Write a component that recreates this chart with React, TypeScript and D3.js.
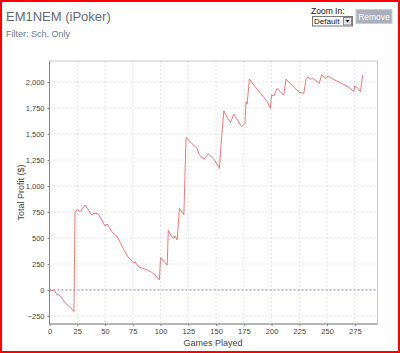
import { useEffect, useRef } from "react";
import * as d3 from "d3";

// games played / running profit
const games = [
  0, 2, 4, 7, 8, 10, 13, 16, 19, 22, 23, 25, 28, 29, 32, 34, 38, 40, 44, 47, 50, 52, 56, 61, 64, 67, 71, 76, 77, 80, 88,
  92, 95, 99, 100, 106, 107, 110, 112, 113, 115, 117, 121, 123, 128, 133, 135, 139, 143, 146, 149, 153, 155, 157, 160,
  163, 166, 169, 173, 176, 177, 178, 180, 184, 190, 196, 199, 200, 202, 205, 208, 209, 211, 213, 217, 221, 225, 229,
  231, 233, 235, 237, 240, 243, 245, 247, 249, 251, 254, 260, 266, 271, 274, 275, 278, 280, 282,
];
const profit = [
  0, -7, 0, -48, -38, -64, -106, -144, -170, -209, 753, 769, 753, 776, 817, 786, 721, 740, 731, 673, 615, 635, 561, 512,
  449, 385, 314, 257, 272, 224, 192, 170, 144, 96, 311, 240, 577, 512, 497, 519, 481, 786, 721, 1468, 1410, 1362, 1298,
  1257, 1308, 1282, 1243, 1170, 1468, 1724, 1660, 1609, 1692, 1641, 1570, 1603, 1811, 1788, 2029, 1971, 1891, 1811,
  1747, 1875, 1865, 1939, 1907, 1891, 1875, 2026, 1987, 1939, 1901, 1891, 2026, 2051, 2026, 2035, 2012, 1987, 2067,
  2051, 2035, 2058, 2035, 2003, 1971, 1939, 1907, 1961, 1939, 1907, 2067,
];
const xTicks = [0, 25, 50, 75, 100, 125, 150, 175, 200, 225, 250, 275];
const yTicks = [-250, 0, 250, 500, 750, 1000, 1250, 1500, 1750, 2000];

const W = 400;
const H = 353;
const plot = { left: 49.5, right: 377.5, top: 61, bottom: 324 };

export default function App() {
  const ref = useRef<SVGSVGElement>(null);

  useEffect(() => {
    const svg = d3.select(ref.current);
    svg.selectAll("*").remove();

    const x = d3.scaleLinear().domain([0, 295.4]).range([plot.left, plot.right]);
    const y = d3.scaleLinear().domain([-327, 2202]).range([plot.bottom, plot.top]);

    svg.append("rect").attr("width", W).attr("height", H).attr("fill", "#fff");

    // header
    svg.append("text").attr("x", 6).attr("y", 20.5)
      .attr("font-family", "Liberation Sans, Arial").attr("font-size", 13).attr("fill", "#5f6b78")
      .text("EM1NEM (iPoker)");
    svg.append("text").attr("x", 6).attr("y", 37)
      .attr("font-family", "Liberation Sans, Arial").attr("font-size", 9).attr("fill", "#6f7a86")
      .text("Filter: Sch. Only");

    // zoom controls
    svg.append("text").attr("x", 311).attr("y", 13.5)
      .attr("font-family", "Liberation Sans, Arial").attr("font-size", 8.5).attr("fill", "#111")
      .text("Zoom In:");
    svg.append("rect").attr("x", 312.5).attr("y", 16.5).attr("width", 40).attr("height", 9.5)
      .attr("fill", "#fff").attr("stroke", "#777");
    svg.append("text").attr("x", 314).attr("y", 24)
      .attr("font-family", "Liberation Sans, Arial").attr("font-size", 8).attr("fill", "#111")
      .text("Default");
    svg.append("rect").attr("x", 343.5).attr("y", 17.5).attr("width", 8).attr("height", 7.5)
      .attr("fill", "#e4e4e4").attr("stroke", "#888");
    svg.append("path").attr("d", "M345.5,20 L349.5,20 L347.5,22.5 Z").attr("fill", "#000");
    svg.append("rect").attr("x", 356).attr("y", 9.5).attr("width", 36).attr("height", 14)
      .attr("fill", "#aab0bc").attr("stroke", "#c8ccd4");
    svg.append("text").attr("x", 374).attr("y", 19.5).attr("text-anchor", "middle")
      .attr("font-family", "Liberation Sans, Arial").attr("font-size", 8.5).attr("fill", "#fff")
      .text("Remove");

    // grid
    const g = svg.append("g");
    g.selectAll("line.vx").data(xTicks).join("line")
      .attr("x1", d => x(d)).attr("x2", d => x(d)).attr("y1", plot.top).attr("y2", plot.bottom)
      .attr("stroke", "#dcdcdc").attr("stroke-dasharray", "2,2").attr("stroke-width", 0.8);
    g.selectAll("line.hy").data(yTicks).join("line")
      .attr("y1", d => y(d)).attr("y2", d => y(d)).attr("x1", plot.left).attr("x2", plot.right)
      .attr("stroke", "#dcdcdc").attr("stroke-dasharray", "2,2").attr("stroke-width", 0.8);

    // zero marker
    svg.append("line").attr("x1", plot.left).attr("x2", plot.right).attr("y1", y(0)).attr("y2", y(0))
      .attr("stroke", "#8c8cf0").attr("stroke-dasharray", "2,2").attr("stroke-width", 1);

    // plot outline
    svg.append("rect").attr("x", plot.left).attr("y", plot.top)
      .attr("width", plot.right - plot.left).attr("height", plot.bottom - plot.top)
      .attr("fill", "none").attr("stroke", "#c8c8c8");
    svg.append("line").attr("x1", plot.left).attr("x2", plot.left).attr("y1", plot.top).attr("y2", plot.bottom)
      .attr("stroke", "#888");
    svg.append("line").attr("x1", plot.left).attr("x2", plot.right).attr("y1", plot.bottom).attr("y2", plot.bottom)
      .attr("stroke", "#888");

    // series
    const line = d3.line<number>().x((_, i) => x(games[i])).y(d => y(d));
    svg.append("path").datum(profit).attr("d", line)
      .attr("fill", "none").attr("stroke", "#f07878").attr("stroke-width", 1);

    // axes
    const xAxis = svg.append("g").attr("transform", `translate(0,${plot.bottom})`)
      .call(d3.axisBottom(x).tickValues(xTicks).tickSize(2).tickPadding(3));
    const yAxis = svg.append("g").attr("transform", `translate(${plot.left},0)`)
      .call(d3.axisLeft(y).tickValues(yTicks).tickSize(2).tickPadding(3).tickFormat(d3.format(",")));
    [xAxis, yAxis].forEach(a => {
      a.select(".domain").remove();
      a.selectAll(".tick line").attr("stroke", "#888");
      a.selectAll(".tick text").attr("fill", "#444")
        .attr("font-family", "Liberation Sans, Arial").attr("font-size", 7.5);
    });

    svg.append("text").attr("x", 213).attr("y", 346)
      .attr("text-anchor", "middle").attr("font-family", "Liberation Sans, Arial").attr("font-size", 9)
      .attr("fill", "#444").text("Games Played");
    svg.append("text").attr("transform", `translate(24,${(plot.top + plot.bottom) / 2}) rotate(-90)`)
      .attr("text-anchor", "middle").attr("font-family", "Liberation Sans, Arial").attr("font-size", 9)
      .attr("fill", "#444").text("Total Profit ($)");

    // red frame
    svg.append("rect").attr("x", 1).attr("y", 1).attr("width", W - 2).attr("height", H - 2)
      .attr("fill", "none").attr("stroke", "#ff0000").attr("stroke-width", 2);
  }, []);

  return (
    <svg ref={ref} width={W} height={H} style={{ position: "absolute", left: 0, top: 0 }} />
  );
}
